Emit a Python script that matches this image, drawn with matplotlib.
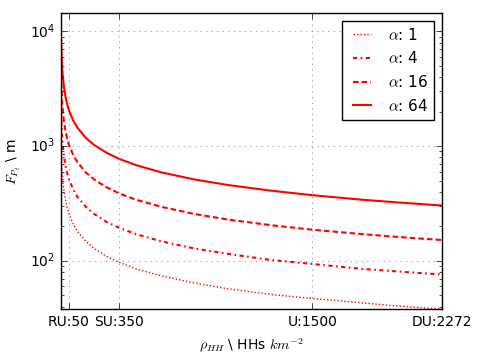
import matplotlib as mpl

mpl.use('agg')

import matplotlib.pyplot as plt

plt.style.use('classic')

# household density (HHs / km^2) sample points
density = [1, 1.5, 2, 3, 4, 5, 7, 10, 14, 20, 30, 40, 50, 75, 100, 150, 200,
           275, 350, 450, 600, 800, 1000, 1250, 1500, 1800, 2000, 2272]

# F_Pt in metres
f_a1 = [1811, 1479, 1280, 1046, 906, 810, 684, 573, 484, 405, 331, 286,
        256, 209, 181, 148, 128, 109, 97, 85, 74, 64, 57, 51, 47, 43, 40.5, 38]
f_a4 = [3620, 2958, 2560, 2090, 1811, 1620, 1369, 1145, 968, 810, 660, 573,
        512, 418, 362, 296, 256, 218, 194, 171, 148, 128, 115, 102, 94, 85, 81, 76]
f_a16 = [7240, 5915, 5120, 4180, 3622, 3240, 2738, 2291, 1936, 1620, 1320, 1145,
         1024, 836, 724, 591, 512, 437, 387, 341, 296, 256, 229, 205, 187, 171, 162, 152]
f_a64 = [14490, 11830, 10240, 8360, 7244, 6480, 5476, 4582, 3872, 3240, 2640, 2290,
         2050, 1670, 1450, 1180, 1024, 874, 774, 683, 591, 512, 458, 410, 374, 341, 324, 304]

alpha_labels = [r'$\alpha$: 1', r'$\alpha$: 4', r'$\alpha$: 16', r'$\alpha$: 64']
tick_pos = [50, 350, 1500, 2272]
tick_labels = ['RU:50', 'SU:350', 'U:1500', 'DU:2272']

fig = plt.figure(figsize=(4.79, 3.52), dpi=100, facecolor='white')
ax = fig.add_axes([0.127, 0.122, 0.795, 0.841])
ax.set_facecolor('white')

ax.plot(density, f_a1, color='r', linestyle=(0, (1, 1.5)), linewidth=1, label=alpha_labels[0])
ax.plot(density, f_a4, color='r', linestyle=(0, (3, 2.5, 1.2, 2.5)), linewidth=1.5, label=alpha_labels[1])
ax.plot(density, f_a16, color='r', linestyle=(0, (4, 2.2)), linewidth=1.5, label=alpha_labels[2])
ax.plot(density, f_a64, color='r', linestyle='-', linewidth=1.5, label=alpha_labels[3])

ax.set_yscale('log')
ax.set_xlim(1, 2272)
ax.set_ylim(min(f_a1), max(f_a64))
ax.set_xticks(tick_pos)
ax.set_xticklabels(tick_labels)
ax.tick_params(labelsize=10)

ax.grid(True, linestyle=':', color='grey', which='major')

ax.set_xlabel(r'$\rho_{HH}$ \ HHs $km^{-2}$', fontsize=10)
ax.set_ylabel(r'$F_{P_t}$ \ m', fontsize=10)

ax.legend(loc='upper right', fontsize=11, handlelength=1.8, fancybox=False)

fig.savefig('out.png', dpi=100, facecolor='white')
